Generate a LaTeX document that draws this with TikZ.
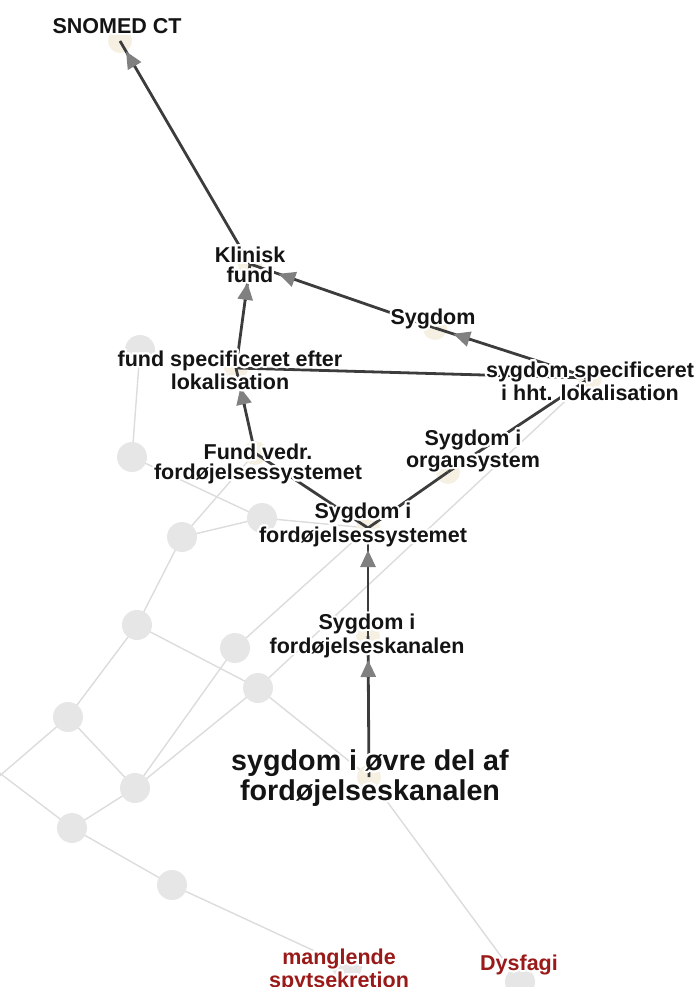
\documentclass[tikz,border=0pt]{standalone}
\usepackage{fontspec}
\setmainfont{Liberation Sans}
\usepackage{contour}
\contourlength{2pt}
\contournumber{32}
\usetikzlibrary{arrows.meta,calc}
\definecolor{edgedark}{HTML}{3C3C3C}
\definecolor{tipgrey}{HTML}{808080}
\definecolor{edgelight}{HTML}{DCDCDC}
\definecolor{nodegrey}{HTML}{E6E6E6}
\definecolor{nodecream}{HTML}{F5F0E1}
\definecolor{labelred}{HTML}{9A1A1A}
\newcommand\halo[1]{\contour{white}{#1}}

\begin{document}
\begin{tikzpicture}[x=1pt,y=-1pt,
  lbl/.style={font=\fontsize{21.5}{19.8}\selectfont\bfseries, text=black!92, align=center, inner sep=0pt},
  biglbl/.style={lbl, font=\fontsize{28.7}{26.5}\selectfont\bfseries},
  redlbl/.style={lbl, text=labelred},
  lightedge/.style={draw=edgelight, line width=1.4pt},
  darkedge/.style={draw=edgedark, line width=2.8pt},
  headonly/.style={draw=edgedark, line width=2.8pt, -{Triangle[length=17pt,width=15pt,color=tipgrey]}},
  greydot/.style={circle, fill=nodegrey, draw=none, minimum size=30pt, inner sep=0pt},
  creamdot/.style={circle, fill=nodecream, draw=none, minimum size=24pt, inner sep=0pt},
]
\useasboundingbox (0,0) rectangle (698,987);
\clip (0,0) rectangle (698,987);

% concept positions
\coordinate (snomed)   at (120,41);
\coordinate (klinisk)  at (250,264);
\coordinate (sygdom)   at (435,328);
\coordinate (fundspec) at (236,368);
\coordinate (sygspec)  at (590,378);
\coordinate (fundvedr) at (255,453);
\coordinate (organsys) at (448,472);
\coordinate (fordsys)  at (368,528);
\coordinate (kanalen)  at (368,636);
\coordinate (ovre)     at (369,777);
\coordinate (mang)     at (347,966);
\coordinate (dysf)     at (520,982);

% neighbouring concepts without labels
\coordinate (g1)  at (140,350);
\coordinate (g2)  at (132,457);
\coordinate (g3)  at (262,518);
\coordinate (g4)  at (182,537);
\coordinate (g5)  at (137,625);
\coordinate (g6)  at (235,648);
\coordinate (g7)  at (258,688);
\coordinate (g8)  at (68,717);
\coordinate (g9)  at (135,788);
\coordinate (g10) at (72,828);
\coordinate (g11) at (172,885);
\coordinate (offA) at (-40,810);
\coordinate (offB) at (-40,743);

% faint links
\foreach \a/\b in {g1/g2, g2/g3, g3/g4, g3/fordsys, g4/fundvedr, g4/g5,
                   g5/g7, g5/g8, g6/fordsys, g6/g9, g7/ovre, g9/g7, g7/sygspec,
                   g8/offA, g8/g9, g9/g10, g10/offB, g10/g11, g11/mang, ovre/dysf}
  \draw[lightedge] (\a) -- (\b);

% grey dots
\foreach \p in {g1,g2,g3,g4,g5,g6,g7,g8,g9,g10,g11,mang,dysf}
  \node[greydot] (\p dot) at (\p) {};

% cream dots of the path concepts
\foreach \p in {snomed,klinisk,sygdom,fundspec,sygspec,fundvedr,organsys,fordsys,kanalen,ovre}
  \node[creamdot] (\p dot) at (\p) {};

% dark links, centre to centre
\foreach \a/\b in {klinisk/snomed, fundspec/klinisk, sygdom/klinisk, sygspec/sygdom,
                   sygspec/fundspec, fundvedr/fundspec, fordsys/fundvedr,
                   fordsys/organsys, organsys/sygspec, kanalen/fordsys, ovre/kanalen}
  \draw[darkedge] (\a) -- (\b);

% arrow heads: tip at the given distance from the target concept
\foreach \s/\t/\d in {klinisk/snomed/12, fundspec/klinisk/19, sygdom/klinisk/30,
                      sygspec/sygdom/19, fundvedr/fundspec/20, kanalen/fordsys/22,
                      ovre/kanalen/24}
  \draw[headonly] ($(\t)!{\d pt+18pt}!(\s)$) -- ($(\t)!\d pt!(\s)$);

% labels
\node[lbl] (snomedL)   at (117,27)  {\halo{SNOMED CT}};
\node[lbl] (kliniskL)  at (250,266) {\halo{Klinisk}\\\halo{fund}};
\node[lbl] (sygdomL)   at (433,320) {\halo{Sygdom}};
\node[lbl] (fundspecL) at (230,371) {\halo{fund specificeret efter}\\\halo{lokalisation}};
\node[lbl] (sygspecL)  at (590,382) {\halo{sygdom specificeret}\\\halo{i hht. lokalisation}};
\node[lbl] (fundvedrL) at (258,465) {\halo{Fund vedr.}\\\halo{fordøjelsessystemet}};
\node[lbl] (organsysL) at (473,452) {\halo{Sygdom i}\\\halo{organsystem}};
\node[lbl] (fordsysL)  at (363,526) {\halo{Sygdom i}\\\halo{fordøjelsessystemet}};
\node[lbl] (kanalenL)  at (367,637) {\halo{Sygdom i}\\\halo{fordøjelseskanalen}};
\node[biglbl] (ovreL)  at (370,779) {\halo{sygdom i øvre del af}\\\halo{fordøjelseskanalen}};
\node[redlbl] (mangL)  at (339,971) {\halo{manglende}\\\halo{spytsekretion}};
\node[redlbl] (dysfL)  at (519,966) {\halo{Dysfagi}};
\end{tikzpicture}
\end{document}
